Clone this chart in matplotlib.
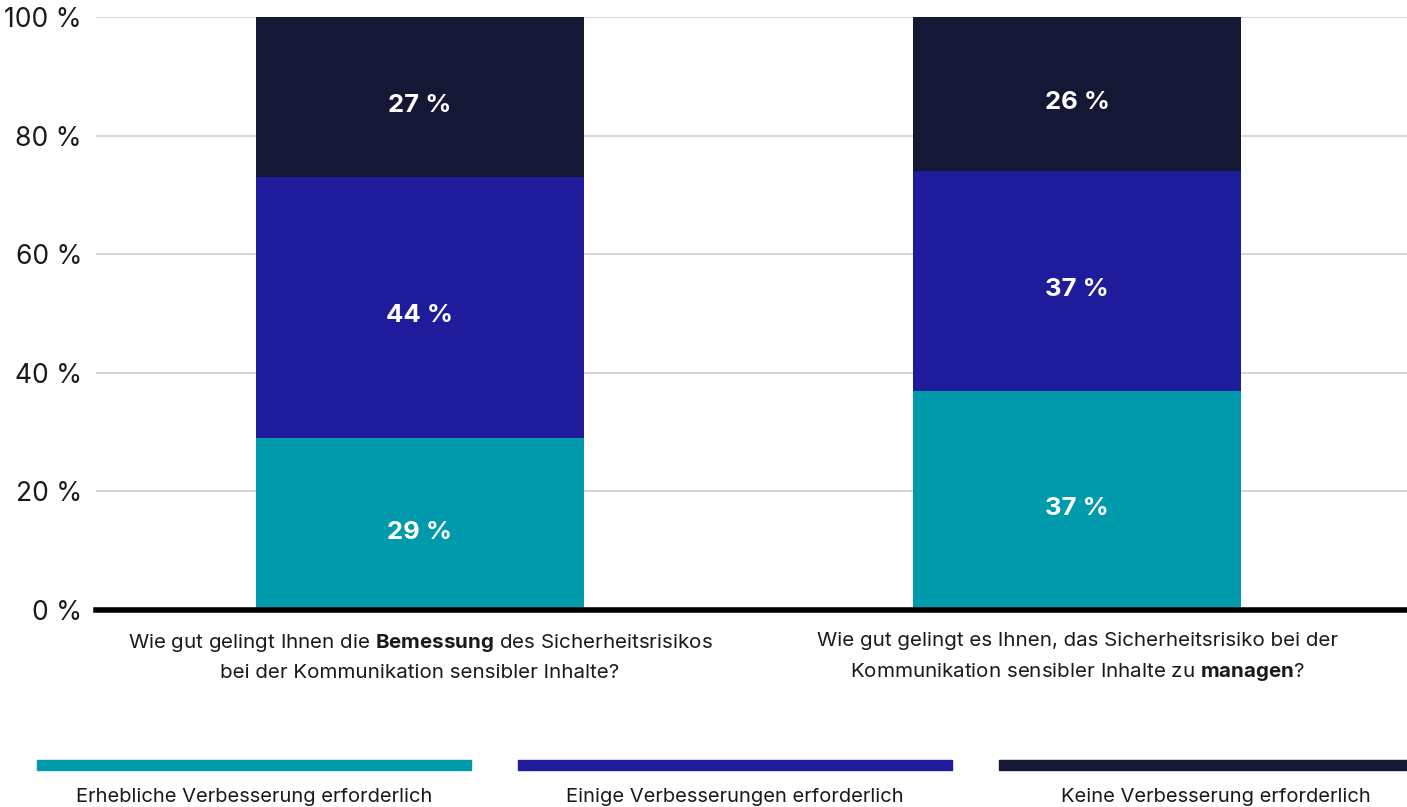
import numpy as np
import matplotlib.pyplot as plt
from matplotlib.patches import Rectangle

# Survey answers in percent (bottom to top in each bar)
questions = [
    "Wie gut gelingt Ihnen die $\\mathbf{Bemessung}$ des Sicherheitsrisikos\nbei der Kommunikation sensibler Inhalte?",
    "Wie gut gelingt es Ihnen, das Sicherheitsrisiko bei der\nKommunikation sensibler Inhalte zu $\\mathbf{managen}$?",
]
series_names = [
    "Erhebliche Verbesserung erforderlich",
    "Einige Verbesserungen erforderlich",
    "Keine Verbesserung erforderlich",
]
erheblich = [29, 37]
einige = [44, 37]
keine = [27, 26]
colors = ["#009aad", "#1f1c9c", "#141834"]
yticks = [0, 20, 40, 60, 80, 100]

plt.rcParams['font.family'] = ['Inter', 'DejaVu Sans']
plt.rcParams['mathtext.fontset'] = 'custom'
plt.rcParams['mathtext.rm'] = 'Inter'
plt.rcParams['mathtext.bf'] = 'Inter:bold'

fig = plt.figure(figsize=(14.07, 8.07), dpi=100)
ax = fig.add_axes([96 / 1407, 197 / 807, 1311 / 1407, 593 / 807])

x = np.arange(len(questions))
bottom = np.zeros(len(questions))
for vals, col in zip([erheblich, einige, keine], colors):
    vals = np.array(vals, dtype=float)
    ax.bar(x, vals, 0.5, bottom=bottom, color=col, zorder=2)
    for xi, b, v in zip(x, bottom, vals):
        ax.annotate(f"{v:.0f} %", (xi, b + v / 2), xytext=(0, -6),
                    textcoords='offset points', ha='center', va='center',
                    color='white', fontsize=18.5, fontweight='bold', zorder=3)
    bottom += vals

ax.set_xlim(-0.493, 1.502)
ax.set_ylim(0, 100)
ax.set_yticks(yticks)
ax.set_yticklabels([f"{t} %" for t in yticks], fontsize=19, color='#1a1a1a')
ax.set_xticks(x)
ax.set_xticklabels(questions, fontsize=14.8, color='#1a1a1a', linespacing=1.7)
ax.tick_params(axis='both', length=0)
ax.tick_params(axis='x', pad=16)
ax.tick_params(axis='y', pad=10)

ax.grid(axis='y', color='#d0d0d0', linewidth=1.2, zorder=0)
for s in ['top', 'right', 'left']:
    ax.spines[s].set_visible(False)
ax.spines['bottom'].set_linewidth(4)
ax.spines['bottom'].set_color('black')
ax.spines['bottom'].set_zorder(4)

# Legend: colour strips with the series name underneath
strip_left = [37, 518, 999]
for left, name, col in zip(strip_left, series_names, colors):
    fig.add_artist(Rectangle((left / 1407, 37 / 807), 434 / 1407, 10 / 807,
                             transform=fig.transFigure, color=col))
    fig.text((left + 217) / 1407, 10 / 807, name, ha='center', va='center',
             fontsize=14.5, color='#1a1a1a')

fig.savefig("out.png", dpi=100)
